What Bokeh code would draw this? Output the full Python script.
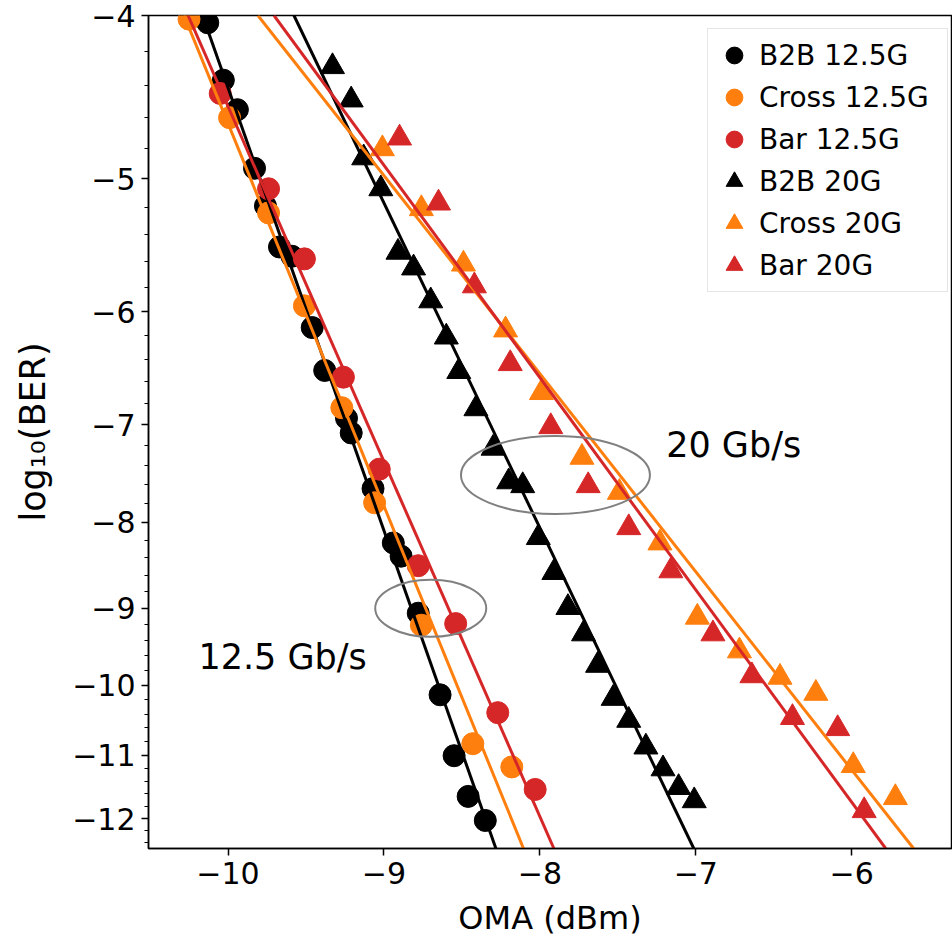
import numpy as np
from bokeh.plotting import figure
from bokeh.models import (FixedTicker, CustomJSTickFormatter, Range1d, Legend)
from bokeh.core.properties import value
from bokeh.embed import file_html
from bokeh.resources import INLINE

# ---------------- data (log10(BER) vs OMA in dBm) ----------------
b2b125_x = [-10.13, -10.03, -9.94, -9.83, -9.76, -9.67, -9.59, -9.46, -9.38, -9.24,
            -9.21, -9.07, -8.94, -8.89, -8.78, -8.64, -8.55, -8.46, -8.35]
b2b125_y = [-4.04, -4.37, -4.55, -4.93, -5.19, -5.49, -5.56, -6.13, -6.50, -6.94,
            -7.08, -7.64, -8.23, -8.38, -9.06, -10.13, -11.01, -11.64, -12.03]

cross125_x = [-10.25, -9.99, -9.74, -9.51, -9.27, -9.06, -8.76, -8.43, -8.18]
cross125_y = [-4.02, -4.60, -5.24, -5.95, -6.84, -7.79, -9.21, -10.83, -11.18]

bar125_x = [-10.05, -9.74, -9.51, -9.26, -9.03, -8.78, -8.54, -8.27, -8.03]
bar125_y = [-4.45, -5.07, -5.58, -6.56, -7.44, -8.49, -9.19, -10.38, -11.53]

b2b20_x = [-9.33, -9.21, -9.13, -9.02, -8.91, -8.81, -8.70, -8.60, -8.52, -8.41,
           -8.30, -8.20, -8.11, -8.01, -7.91, -7.82, -7.72, -7.63, -7.53, -7.43,
           -7.32, -7.21, -7.11, -7.01]
b2b20_y = [-4.29, -4.49, -4.86, -5.07, -5.53, -5.65, -5.91, -6.21, -6.51, -6.85,
           -7.23, -7.57, -7.61, -8.17, -8.57, -8.99, -9.32, -9.73, -10.18, -10.49,
           -10.88, -11.21, -11.50, -11.71]

cross20_x = [-9.01, -8.76, -8.49, -8.22, -7.99, -7.73, -7.49, -7.23, -6.99, -6.72,
             -6.46, -6.23, -5.99, -5.72]
cross20_y = [-4.80, -5.21, -5.62, -6.15, -6.70, -7.32, -7.68, -8.23, -9.11, -9.54,
             -9.89, -10.11, -11.16, -11.66]

bar20_x = [-8.90, -8.65, -8.42, -8.19, -7.93, -7.69, -7.43, -7.16, -6.89, -6.64,
           -6.38, -6.09, -5.92]
bar20_y = [-4.73, -5.17, -5.79, -6.44, -7.02, -7.61, -8.06, -8.55, -9.32, -9.87,
           -10.45, -10.61, -11.87]

# fitted lines (end points)
fit_b2b125_x = [-10.163, -8.282]
fit_cross125_x = [-10.282, -8.105]
fit_bar125_x = [-10.256, -7.910]
fit_b2b20_x = [-9.577, -7.013]
fit_cross20_x = [-9.808, -5.603]
fit_bar20_x = [-9.705, -5.782]
fit_y = [-4.0, -12.5]

x_ticks = [-10, -9, -8, -7, -6]
y_ticks = [-4, -5, -6, -7, -8, -9, -10, -11, -12]
y_minor = [round(-4 - 0.2 * i, 1) for i in range(1, 43) if (i % 5) != 0]

annot_text = ["12.5 Gb/s", "20 Gb/s"]
annot_x = [-10.19, -7.19]
annot_y = [-9.62, -7.20]
ell_x = [-8.70, -7.90]
ell_y = [-9.0, -7.5]

BLACK = "#000000"
ORANGE = "#ff7f0e"
RED = "#d62728"
FONT = "DejaVu Sans"


def neg(a):
    return [-v for v in a]


p = figure(frame_width=803, frame_height=833,
           min_border_left=148, min_border_right=1, min_border_top=15, min_border_bottom=99,
           x_range=Range1d(-10.51, -5.36), y_range=Range1d(12.5, 4.0),
           y_axis_type="log", output_backend="svg", toolbar_location=None)
p.background_fill_color = "white"
p.border_fill_color = "white"
p.outline_line_color = "black"
p.outline_line_width = 1.5
p.xgrid.visible = False
p.ygrid.visible = False

# axes
p.xaxis.ticker = FixedTicker(ticks=x_ticks, minor_ticks=[])
p.xaxis.formatter = CustomJSTickFormatter(code="return (tick < 0 ? '\u2212' : '') + Math.abs(tick).toFixed(0);")
p.yaxis.ticker = FixedTicker(ticks=neg(y_ticks), minor_ticks=neg(y_minor))
p.yaxis.formatter = CustomJSTickFormatter(code="return '\u2212' + tick.toFixed(0);")
for ax in (p.xaxis[0], p.yaxis[0]):
    ax.axis_line_width = 1.5
    ax.major_tick_line_width = 1.5
    ax.minor_tick_line_width = 1.2
    ax.major_tick_out = 7
    ax.major_tick_in = 0
    ax.minor_tick_out = 4
    ax.minor_tick_in = 0
    ax.major_label_text_font = FONT
    ax.major_label_text_font_size = "30px"
    ax.major_label_text_color = "black"
    ax.axis_label_text_font = FONT
    ax.axis_label_text_font_style = "normal"
    ax.axis_label_text_color = "black"
p.xaxis.axis_label = "OMA (dBm)"
p.yaxis.axis_label = "log\u2081\u2080(BER)"
p.xaxis.axis_label_text_font_size = "32px"
p.yaxis.axis_label_text_font_size = "35px"
p.xaxis.major_label_standoff = 6
p.xaxis.axis_label_standoff = 12
p.yaxis.major_label_standoff = 6
p.yaxis.axis_label_standoff = 16

# markers
CS = 22
TS = 24
r1 = p.scatter(b2b125_x, neg(b2b125_y), marker="circle", size=CS, color=BLACK)
r2 = p.scatter(cross125_x, neg(cross125_y), marker="circle", size=CS, color=ORANGE)
r3 = p.scatter(bar125_x, neg(bar125_y), marker="circle", size=CS, color=RED)
r4 = p.scatter(b2b20_x, neg(b2b20_y), marker="triangle", size=TS, color=BLACK)
r5 = p.scatter(cross20_x, neg(cross20_y), marker="triangle", size=TS, color=ORANGE)
r6 = p.scatter(bar20_x, neg(bar20_y), marker="triangle", size=TS, color=RED)

# fitted lines
LW = 3
p.line(fit_b2b125_x, neg(fit_y), line_color=BLACK, line_width=LW)
p.line(fit_cross125_x, neg(fit_y), line_color=ORANGE, line_width=LW)
p.line(fit_bar125_x, neg(fit_y), line_color=RED, line_width=LW)
p.line(fit_b2b20_x, neg(fit_y), line_color=BLACK, line_width=LW)
p.line(fit_cross20_x, neg(fit_y), line_color=ORANGE, line_width=LW)
p.line(fit_bar20_x, neg(fit_y), line_color=RED, line_width=LW)

# ellipses and annotations
p.ellipse(x=ell_x[0], y=-ell_y[0], width=111, height=57, width_units="screen",
          height_units="screen", fill_alpha=0, line_color="#808080", line_width=2)
p.ellipse(x=ell_x[1], y=-ell_y[1], width=189, height=78, width_units="screen",
          height_units="screen", fill_alpha=0, line_color="#808080", line_width=2)
p.text(x=annot_x, y=neg(annot_y), text=annot_text, text_font=value(FONT),
       text_font_size="35px", text_color="black", text_align="left",
       text_baseline="alphabetic")

legend = Legend(items=[("B2B 12.5G", [r1]), ("Cross 12.5G", [r2]), ("Bar 12.5G", [r3]),
                       ("B2B 20G", [r4]), ("Cross 20G", [r5]), ("Bar 20G", [r6])],
                location=(559, 556))
legend.glyph_width = 42
legend.glyph_height = 42
legend.label_height = 42
legend.spacing = 0
legend.padding = 5
legend.margin = 0
legend.label_standoff = 4
legend.label_width = 183
legend.label_text_font = FONT
legend.label_text_font_size = "28px"
legend.label_text_color = "black"
legend.border_line_color = "#cccccc"
legend.border_line_width = 1.5
legend.background_fill_alpha = 0.8
p.add_layout(legend, "center")

open("out.html", "w").write(file_html(p, INLINE))
